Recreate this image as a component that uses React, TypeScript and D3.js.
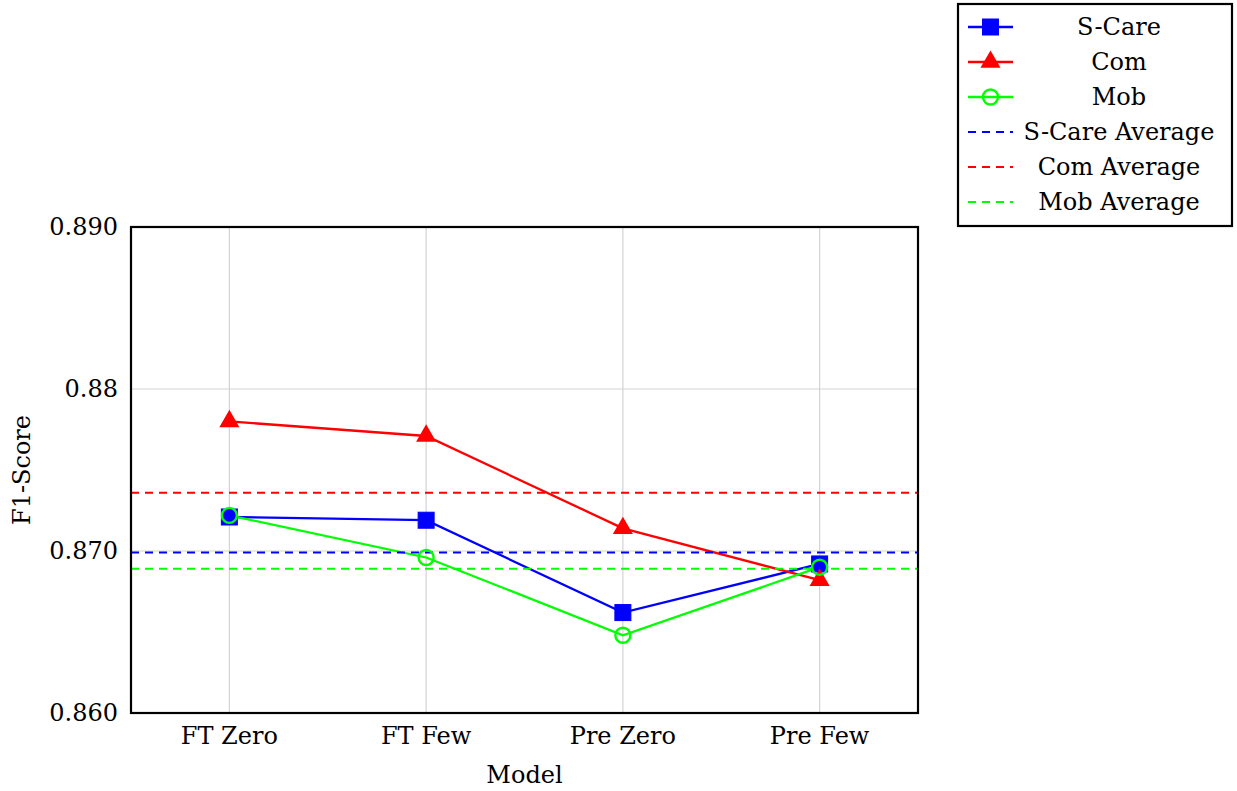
import * as React from "react";
import * as d3 from "d3";

const categories = ["FT Zero", "FT Few", "Pre Zero", "Pre Few"];
const sCare = [0.8721, 0.8719, 0.8662, 0.8692];
const com = [0.878, 0.8771, 0.8714, 0.8682];
const mob = [0.8722, 0.8696, 0.8648, 0.869];
const averages = [0.8699, 0.8736, 0.8689];
const yTicks = [0.86, 0.87, 0.88, 0.89];
const yTickLabels = ["0.860", "0.870", "0.88", "0.890"];

const font = "DejaVu Serif";

const series = [
  { name: "S-Care", values: sCare, color: "#0000ff", marker: "square" },
  { name: "Com", values: com, color: "#ff0000", marker: "triangle" },
  { name: "Mob", values: mob, color: "#00ff00", marker: "circle" },
];
const avgSeries = [
  { name: "S-Care Average", value: averages[0], color: "#0000ff" },
  { name: "Com Average", value: averages[1], color: "#ff0000" },
  { name: "Mob Average", value: averages[2], color: "#00ff00" },
];

const Marker = ({ type, x, y, color }) => {
  if (type === "square")
    return <rect x={x - 8} y={y - 8} width={16} height={16} fill={color} stroke={color} strokeWidth={1} />;
  if (type === "triangle") {
    const tri = d3.symbol().type(d3.symbolTriangle).size(175)();
    return <path d={tri} transform={`translate(${x},${y})`} fill={color} />;
  }
  return <circle cx={x} cy={y} r={7.5} fill="none" stroke={color} strokeWidth={2.4} />;
};

export default function App() {
  const width = 1237;
  const height = 791;
  const left = 131, right = 918, top = 227, bottom = 713;

  const x = d3.scalePoint().domain(categories).range([left, right]).padding(0.5);
  const y = d3.scaleLinear().domain([0.86, 0.89]).range([bottom, top]);

  const line = d3
    .line<number>()
    .x((d, i) => x(categories[i]))
    .y((d) => y(d));

  const legX = 958, legY = 4, legW = 274, legH = 222;
  const rowH = 35;
  const fs = 24;

  return (
    <svg width={width} height={height} style={{ position: "absolute", left: 0, top: 0, fontFamily: font }}>
      {/* grid */}
      {categories.map((c) => (
        <line key={c} x1={x(c)} x2={x(c)} y1={top} y2={bottom} stroke="#d3d3d3" strokeWidth={1.2} />
      ))}
      {yTicks.map((t) => (
        <line key={t} x1={left} x2={right} y1={y(t)} y2={y(t)} stroke="#d3d3d3" strokeWidth={1.2} />
      ))}

      {/* series lines */}
      {series.map((s) => (
        <path key={s.name} d={line(s.values)} fill="none" stroke={s.color} strokeWidth={2.3} />
      ))}

      {/* averages */}
      {avgSeries.map((a) => (
        <line key={a.name} x1={left} x2={right} y1={y(a.value)} y2={y(a.value)}
          stroke={a.color} strokeWidth={2} strokeDasharray="8,6" />
      ))}

      {/* markers */}
      {series.map((s) =>
        s.values.map((v, i) => (
          <Marker key={s.name + i} type={s.marker} x={x(categories[i])} y={y(v)} color={s.color} />
        ))
      )}

      {/* frame */}
      <rect x={left} y={top} width={right - left} height={bottom - top} fill="none" stroke="#000" strokeWidth={2.2} />

      {/* y tick labels */}
      {yTicks.map((t, i) => (
        <text key={t} x={118} y={y(t)} textAnchor="end" dominantBaseline="central" fontSize={fs}>
          {yTickLabels[i]}
        </text>
      ))}
      {/* x tick labels */}
      {categories.map((c) => (
        <text key={c} x={x(c)} y={736} textAnchor="middle" dominantBaseline="central" fontSize={fs}>
          {c}
        </text>
      ))}

      <text x={(left + right) / 2} y={775} textAnchor="middle" dominantBaseline="central" fontSize={fs}>
        Model
      </text>
      <text transform={`translate(22,${(top + bottom) / 2}) rotate(-90)`} textAnchor="middle"
        dominantBaseline="central" fontSize={fs}>
        F1-Score
      </text>

      {/* legend */}
      <rect x={legX} y={legY} width={legW} height={legH} fill="#fff" stroke="#000" strokeWidth={2.2} />
      {series.map((s, i) => {
        const cy = legY + 23 + i * rowH;
        return (
          <g key={s.name}>
            <line x1={968} x2={1013} y1={cy} y2={cy} stroke={s.color} strokeWidth={2.3} />
            <Marker type={s.marker} x={990.5} y={cy} color={s.color} />
            <text x={1119} y={cy} textAnchor="middle" dominantBaseline="central" fontSize={fs}>{s.name}</text>
          </g>
        );
      })}
      {avgSeries.map((a, i) => {
        const cy = legY + 23 + (i + 3) * rowH;
        return (
          <g key={a.name}>
            <line x1={968} x2={1013} y1={cy} y2={cy} stroke={a.color} strokeWidth={2} strokeDasharray="8,6" />
            <text x={1119} y={cy} textAnchor="middle" dominantBaseline="central" fontSize={fs}>{a.name}</text>
          </g>
        );
      })}
    </svg>
  );
}
